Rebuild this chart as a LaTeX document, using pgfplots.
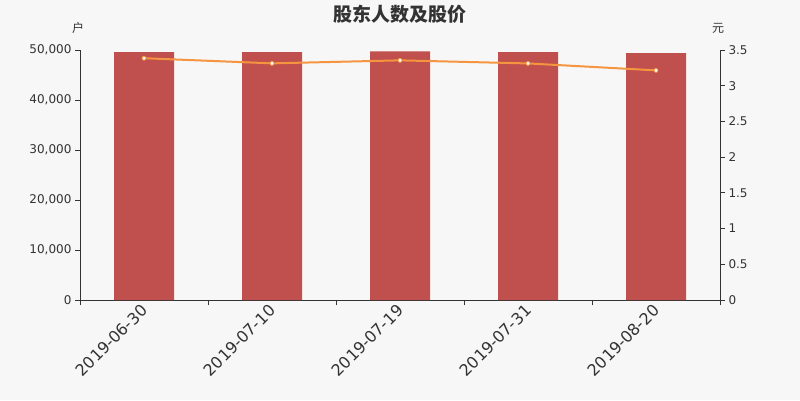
\documentclass[border=0pt]{standalone}
\usepackage{pgfplots}
\pgfplotsset{compat=1.18}
\usepackage{fontspec}
\setmainfont{DejaVu Sans}
\newfontfamily\cjk{Noto Sans CJK SC}
\definecolor{bg}{HTML}{F7F7F7}
\definecolor{barc}{HTML}{C0504D}
\definecolor{linec}{HTML}{F59540}
\definecolor{txt}{HTML}{333333}
\begin{document}
\begin{tikzpicture}[x=1pt,y=1pt]
\fill[bg] (0,0) rectangle (800,400);
\useasboundingbox (0,0) rectangle (800,400);
\pgfplotsset{
  common/.style={
    at={(80pt,100pt)}, anchor=south west, scale only axis,
    width=640pt, height=250pt, xmin=0, xmax=5,
    axis line style={txt, line width=0.8pt, -},
    tick style={txt, line width=0.8pt},
    tick align=outside, major tick length=5pt, minor tick length=5pt,
    /pgf/number format/assume math mode=true,
    yticklabel style={font=\fontsize{12}{14}\selectfont, text=txt},
    clip=false,
  }
}
\begin{axis}[common,
  ymin=0, ymax=50000,
  axis x line*=bottom, axis y line*=left,
  xtick={0.5,1.5,2.5,3.5,4.5},
  xticklabels={2019-06-30,2019-07-10,2019-07-19,2019-07-31,2019-08-20},
  major x tick style={draw=none},
  minor xtick={0,1,2,3,4,5},
  x tick label style={rotate=45, anchor=east, xshift=2pt, yshift=-2pt, font=\fontsize{16}{18}\selectfont, text=txt},
  ytick={0,10000,20000,30000,40000,50000},
  scaled y ticks=false,
  yticklabel style={/pgf/number format/.cd, fixed, 1000 sep={,}},
]
\addplot[ybar, bar width=60pt, fill=barc, draw=none] coordinates {
  (0.5,49600) (1.5,49600) (2.5,49750) (3.5,49600) (4.5,49400)
};
\end{axis}
\begin{axis}[common,
  ymin=0, ymax=3.5,
  axis x line=none, axis y line*=right,
  ytick={0,0.5,1,1.5,2,2.5,3,3.5},
  yticklabels={0,0.5,1,1.5,2,2.5,3,3.5},
]
\addplot[linec, line width=2pt, mark=*, mark size=2pt,
  mark options={fill=white, draw=linec, line width=0.8pt}] coordinates {
  (0.5,3.385) (1.5,3.313) (2.5,3.355) (3.5,3.312) (4.5,3.215)
};
\end{axis}
\node[txt, font=\cjk\fontsize{12}{14}\selectfont] at (78,372) {户};
\node[txt, font=\cjk\fontsize{12}{14}\selectfont] at (718,372) {元};
\node[txt, font=\cjk\bfseries\fontsize{19}{22}\selectfont] at (400,386) {股东人数及股价};
\end{tikzpicture}
\end{document}
